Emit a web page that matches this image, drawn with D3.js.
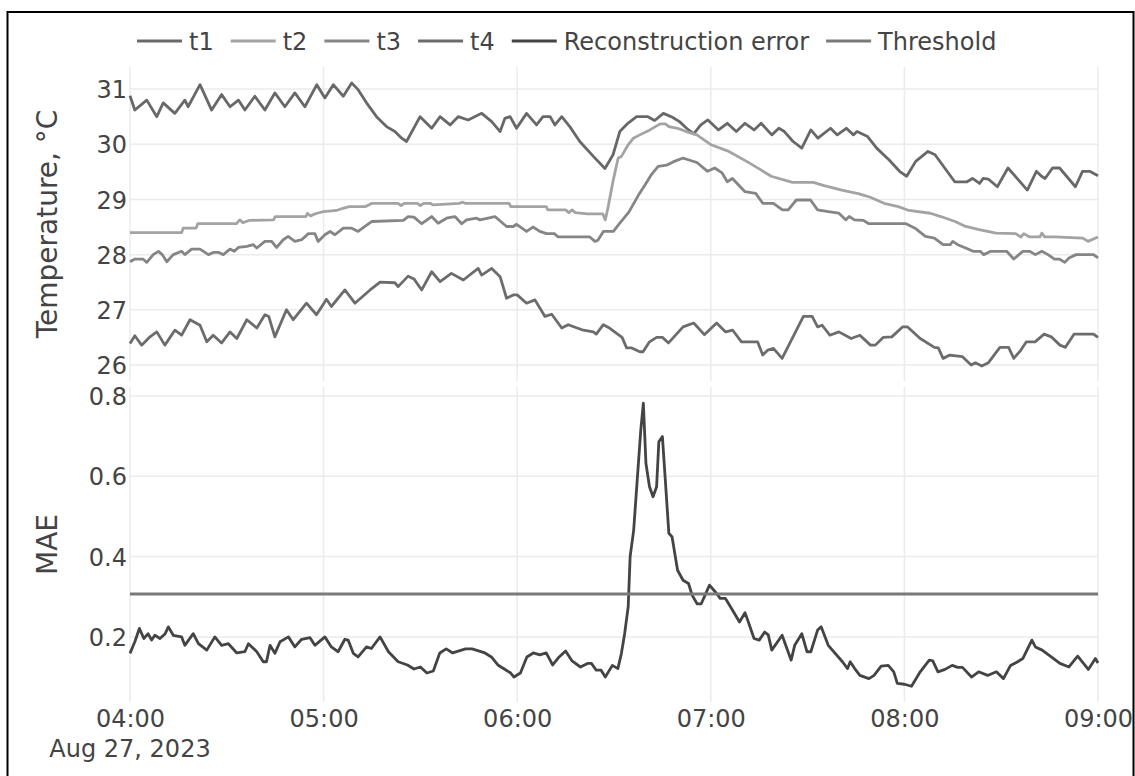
<!DOCTYPE html>
<html><head><meta charset="utf-8">
<script src="https://cdn.jsdelivr.net/npm/d3@7"></script>
<style>
html,body{margin:0;padding:0;background:#fff;}
text{font-family:"DejaVu Sans",Verdana,sans-serif;fill:#444;}
</style></head>
<body><svg id="c" width="1135" height="776"></svg>
<script>
// ---- data (minutes after 04:00, value) ----
const startTime = new Date(2023, 7, 27, 4, 0);
const endTime = new Date(2023, 7, 27, 9, 0);
const seriesNames = ["t1", "t2", "t3", "t4", "Reconstruction error", "Threshold"];
const tempTicks = [26, 27, 28, 29, 30, 31];
const maeTicks = [0.2, 0.4, 0.6, 0.8];
const thresholdValue = 0.3065;

const t1 = [[0,30.88],[1.5,30.62],[5.2,30.8],[8.3,30.5],[10.3,30.75],[13.9,30.56],[17,30.8],[18,30.68],[21.7,31.08],[25.3,30.62],[28.4,30.9],[31,30.68],[33.6,30.8],[35.6,30.62],[38.7,30.87],[41.8,30.62],[44.9,30.93],[48,30.68],[51.1,30.93],[54.2,30.68],[57.9,31.08],[60.4,30.84],[63,31.08],[66.1,30.87],[68.7,31.11],[70.7,30.99],[73.3,30.75],[76.4,30.5],[79.5,30.32],[82.1,30.23],[84.2,30.11],[85.7,30.05],[89.9,30.5],[93.5,30.29],[96.1,30.5],[99.2,30.35],[101.7,30.5],[104.8,30.44],[109,30.56],[112.1,30.41],[114.7,30.23],[116.2,30.47],[117.8,30.5],[119.8,30.29],[122.9,30.56],[126,30.35],[128,30.5],[130.2,30.5],[131.7,30.35],[133.8,30.5],[136.3,30.32],[139.4,30.05],[143.6,29.78],[147.2,29.56],[149.7,29.81],[151.8,30.23],[154.3,30.38],[157,30.5],[160.5,30.5],[162.6,30.43],[165.3,30.56],[168.1,30.49],[170.3,30.41],[172.5,30.29],[174.7,30.19],[176.9,30.35],[179.1,30.44],[182.4,30.26],[185.1,30.38],[187.9,30.23],[190.6,30.38],[193.4,30.26],[195.6,30.38],[198.9,30.17],[201.1,30.29],[202.8,30.23],[205.5,30.05],[208.2,29.93],[211,30.26],[213.2,30.11],[217.1,30.29],[219.2,30.17],[222,30.29],[224.2,30.17],[225.3,30.23],[228.6,30.14],[231.4,29.93],[235.2,29.72],[238.5,29.51],[240.7,29.42],[243.5,29.69],[247.3,29.87],[249.5,29.81],[255.6,29.32],[259.4,29.32],[261.1,29.38],[263.3,29.29],[264.4,29.38],[266,29.37],[268.8,29.23],[272.1,29.57],[278.1,29.17],[280.9,29.51],[282.5,29.42],[283.6,29.38],[285.9,29.57],[288.1,29.57],[293,29.23],[295.2,29.51],[297.4,29.51],[300,29.43]];

const t2 = [[0,28.40],[16,28.40],[16.5,28.48],[20.5,28.48],[21,28.56],[33,28.56],[34,28.63],[35,28.58],[36,28.6],[37,28.62],[44.5,28.63],[45,28.69],[54.5,28.69],[55,28.75],[56,28.7],[57,28.73],[58,28.75],[60,28.78],[64,28.8],[66,28.84],[68,28.87],[73,28.87],[75,28.93],[83,28.93],[84,28.89],[85,28.93],[89,28.93],[90,28.89],[91,28.93],[93,28.93],[94,28.9],[102,28.93],[103,28.95],[104,28.93],[117.5,28.93],[118,28.87],[129,28.87],[129.5,28.81],[135,28.81],[136,28.76],[137,28.81],[138,28.76],[141.8,28.74],[146.5,28.74],[147.3,28.63],[148.2,28.87],[149.8,29.36],[151.3,29.75],[152.3,29.78],[154.4,29.99],[156,30.11],[158,30.17],[161.1,30.26],[164.3,30.37],[165.9,30.37],[167,30.32],[169.7,30.29],[172.4,30.23],[175.7,30.17],[180.1,29.99],[185.6,29.87],[191.1,29.69],[195.4,29.54],[198.7,29.42],[205.3,29.31],[211.8,29.31],[215.1,29.25],[220.6,29.17],[226,29.10],[229.4,29.04],[233.7,28.93],[238.1,28.87],[241.4,28.80],[248,28.75],[251.3,28.69],[255.7,28.60],[259,28.51],[263.5,28.45],[268.4,28.39],[274.5,28.38],[276.1,28.32],[277,28.38],[278.8,28.32],[282,28.32],[282.6,28.39],[283.5,28.32],[286.5,28.32],[295.3,28.30],[296.9,28.24],[300,28.32]];

const t3 = [[0,27.87],[1.5,27.92],[4,27.92],[5.2,27.86],[7.2,28.0],[8.8,28.06],[10,28.0],[11.4,27.87],[13.4,28.0],[16,28.06],[17,28.0],[19.1,28.1],[21.7,28.1],[24.3,28.0],[25.8,28.04],[27.5,28.04],[28.9,28.0],[31,28.1],[32.3,28.06],[33.6,28.13],[36.2,28.15],[38.2,28.18],[39.3,28.12],[41.8,28.24],[43.9,28.24],[45.4,28.13],[47.5,28.27],[49,28.33],[51.1,28.24],[53.2,28.27],[55.3,28.38],[57.3,28.38],[58.3,28.24],[60.4,28.36],[62,28.42],[63.5,28.36],[66.1,28.48],[68.7,28.48],[70.7,28.42],[72.8,28.51],[74.9,28.60],[84.7,28.62],[86.2,28.69],[88,28.68],[90.4,28.56],[93.5,28.69],[95.5,28.57],[98.1,28.66],[100.7,28.69],[102.8,28.56],[104.3,28.63],[107.4,28.66],[108.5,28.63],[113.1,28.69],[116.7,28.51],[118.8,28.51],[119.8,28.55],[122.9,28.42],[124.9,28.50],[127,28.42],[129.1,28.38],[131.5,28.38],[132.7,28.32],[142.5,28.32],[144.1,28.24],[145,28.26],[146.7,28.42],[149.8,28.42],[151.8,28.57],[154.6,28.77],[157.5,29.07],[159.6,29.26],[161.7,29.46],[163.7,29.60],[166.3,29.62],[168.3,29.68],[171.4,29.75],[173,29.72],[175.7,29.67],[179,29.51],[181.2,29.57],[183.5,29.48],[185.1,29.32],[186.7,29.38],[190.6,29.14],[193.9,29.11],[196.1,28.93],[199.4,28.93],[202.2,28.81],[204,28.81],[206.5,28.99],[210.9,28.99],[213.1,28.81],[216.4,28.78],[219.7,28.75],[221.8,28.63],[222.9,28.69],[224.5,28.63],[227.3,28.62],[229,28.56],[240.5,28.56],[243.3,28.48],[246.5,28.33],[249.3,28.30],[252,28.18],[254.2,28.18],[255,28.24],[256.5,28.18],[259,28.12],[261.3,28.06],[263.5,28.06],[264.6,28.0],[266.8,28.06],[271.7,28.06],[273.9,27.92],[276.7,28.06],[278.8,28.06],[280.6,28.0],[282.6,28.06],[284.5,28.0],[286.5,27.92],[288,27.92],[289.7,27.86],[291,27.94],[293.2,28.0],[298.6,28.0],[300,27.94]];

const t4 = [[0,26.39],[1.5,26.53],[3.6,26.36],[6.2,26.51],[8.3,26.60],[10.8,26.36],[13.9,26.63],[16,26.54],[18.6,26.82],[21.7,26.72],[23.8,26.42],[25.8,26.54],[28.4,26.40],[31,26.60],[33.1,26.48],[36.2,26.82],[39.3,26.67],[41.8,26.91],[43,26.88],[44.9,26.51],[48.5,27.0],[50.6,26.82],[54.7,27.12],[57.8,26.91],[60.9,27.19],[62.4,27.06],[66.6,27.36],[69.7,27.12],[74.4,27.36],[77.5,27.50],[82.1,27.49],[83.1,27.42],[86.2,27.61],[88,27.56],[90.4,27.36],[93.5,27.69],[96.1,27.51],[99.6,27.66],[103.3,27.54],[107.9,27.75],[109,27.63],[112.1,27.75],[114.7,27.60],[116.7,27.21],[118.8,27.27],[120,27.27],[122.9,27.12],[125.5,27.18],[128.6,26.88],[130.7,26.92],[133.8,26.67],[135.8,26.73],[140.5,26.63],[143.6,26.60],[144.5,26.56],[146.7,26.73],[148.6,26.67],[152.5,26.50],[153.9,26.31],[155.5,26.31],[158,26.24],[159,26.24],[161,26.42],[163.2,26.50],[165,26.50],[166.9,26.40],[171.4,26.69],[174.7,26.76],[178,26.55],[181.8,26.76],[184.6,26.60],[186.8,26.63],[189.5,26.42],[194.5,26.42],[196.1,26.18],[197.7,26.27],[199.4,26.30],[202.1,26.12],[208.7,26.88],[211.4,26.88],[213.1,26.69],[214.5,26.72],[216.9,26.54],[219.7,26.60],[223.5,26.48],[226.2,26.54],[229.5,26.36],[231,26.36],[233.4,26.50],[236.1,26.51],[239.4,26.69],[241,26.69],[244.9,26.48],[249.3,26.32],[250.5,26.31],[252,26.12],[254.1,26.18],[258,26.15],[260.7,26.0],[262,26.04],[264,25.98],[266,26.04],[269.6,26.32],[272.3,26.32],[273.9,26.12],[276.1,26.27],[277.8,26.42],[280.5,26.42],[283.3,26.56],[285.5,26.51],[288.2,26.36],[289.9,26.32],[292.6,26.56],[298.6,26.56],[300,26.50]];

const mae = [[0,0.159],[1.5,0.188],[2.9,0.221],[4.3,0.196],[5.6,0.208],[6.7,0.192],[7.7,0.204],[9.3,0.196],[10.9,0.208],[11.9,0.225],[13.4,0.204],[16,0.200],[17,0.179],[19.6,0.208],[21.2,0.183],[23.8,0.167],[26.3,0.200],[28.4,0.179],[30.5,0.183],[33.1,0.160],[35.6,0.163],[36.7,0.183],[39.3,0.163],[41.3,0.138],[42.3,0.138],[43.4,0.179],[44.9,0.159],[46.5,0.188],[49.1,0.200],[51.1,0.175],[53.2,0.194],[55.8,0.198],[57.3,0.179],[60.4,0.200],[62.4,0.175],[64.5,0.163],[66.6,0.194],[67.6,0.192],[69.2,0.159],[70.7,0.150],[73.3,0.175],[74.8,0.171],[77.5,0.200],[80.1,0.163],[83.1,0.138],[86,0.13],[88,0.12],[90,0.125],[92,0.11],[94,0.115],[96,0.16],[98,0.17],[100,0.16],[102,0.165],[104,0.17],[106,0.17],[108,0.165],[110,0.16],[112,0.15],[114,0.13],[116,0.12],[118,0.11],[119,0.10],[121,0.11],[123,0.15],[125,0.16],[127,0.155],[129,0.16],[131,0.13],[133,0.15],[135,0.165],[137,0.14],[139.6,0.125],[141.8,0.134],[143,0.134],[144.5,0.117],[146,0.117],[147.3,0.100],[149.5,0.129],[151.2,0.121],[152.3,0.159],[153.3,0.208],[154.4,0.275],[155,0.400],[156.1,0.466],[157.2,0.591],[158.3,0.715],[159.1,0.782],[159.9,0.632],[161,0.574],[162.1,0.549],[163.2,0.574],[163.9,0.686],[165,0.699],[165.9,0.591],[167,0.458],[168,0.449],[169.7,0.366],[171.4,0.341],[173.1,0.333],[174.2,0.304],[175.8,0.282],[177,0.282],[179.6,0.329],[181.8,0.308],[182.9,0.296],[184.5,0.296],[186.7,0.267],[188.9,0.237],[190.6,0.260],[191.5,0.24],[193.4,0.196],[195,0.192],[196.7,0.212],[197.8,0.205],[198.9,0.167],[202.1,0.204],[204.9,0.142],[206,0.179],[208.2,0.208],[209.8,0.163],[211,0.163],[213.1,0.217],[214.2,0.225],[216.4,0.179],[220.8,0.138],[222.4,0.121],[223.2,0.138],[224.6,0.121],[226.2,0.104],[229,0.096],[230.6,0.104],[232.8,0.127],[235,0.129],[236.7,0.113],[237.8,0.084],[240,0.082],[242.2,0.077],[244.9,0.113],[247.7,0.142],[248.8,0.14],[250.4,0.113],[252.6,0.119],[254.8,0.129],[256.5,0.124],[258,0.124],[260.8,0.100],[263,0.113],[265.8,0.104],[268.5,0.113],[270.7,0.096],[272.9,0.129],[275.1,0.138],[276.7,0.146],[279.5,0.192],[280.6,0.175],[282.7,0.167],[285.5,0.150],[288.2,0.134],[291,0.125],[293.7,0.152],[297,0.119],[299.2,0.146],[300,0.135]];

const seriesColors = ["#686868", "#a3a3a3", "#858585", "#6c6c6c", "#444444", "#7a7a7a"];

// ---- layout ----
const svg = d3.select("#c");
const left = 130, right = 1098;
const top1 = 67, bot1 = 381, top2 = 387, bot2 = 702;
const toDate = m => new Date(startTime.getTime() + m * 60000);

const x = d3.scaleTime().domain([startTime, endTime]).range([left, right]);
const y1 = d3.scaleLinear().domain([25.71, 31.40]).range([bot1, top1]);
const y2 = d3.scaleLinear().domain([0.0378, 0.8224]).range([bot2, top2]);

const hourTicks = d3.timeHour.range(startTime, new Date(endTime.getTime() + 1));

// border
svg.append("path").attr("d", "M7.5,790V12H1133.5V790").attr("fill", "none").attr("stroke", "#000").attr("stroke-width", 2);

// gridlines
function grid(yScale, ticks, yTop, yBot) {
  const g = svg.append("g").attr("stroke", "#ebebeb").attr("stroke-width", 1.5);
  ticks.forEach(t => g.append("line").attr("x1", left).attr("x2", right).attr("y1", yScale(t)).attr("y2", yScale(t)));
  hourTicks.forEach(t => g.append("line").attr("x1", x(t)).attr("x2", x(t)).attr("y1", yTop).attr("y2", yBot));
}
grid(y1, tempTicks, top1, bot1);
grid(y2, maeTicks, top2, bot2);

// y tick labels via axis
const ya1 = svg.append("g").attr("transform", `translate(${left - 3},0)`)
  .call(d3.axisLeft(y1).tickValues(tempTicks).tickSize(0).tickPadding(0).tickFormat(d3.format("d")));
const ya2 = svg.append("g").attr("transform", `translate(${left - 3},0)`)
  .call(d3.axisLeft(y2).tickValues(maeTicks).tickSize(0).tickPadding(0).tickFormat(d3.format(".1f")));
[ya1, ya2].forEach(a => {
  a.select(".domain").remove();
  a.selectAll("text").attr("font-size", 24).attr("font-family", "DejaVu Sans").attr("fill", "#444").attr("dy", "0.36em");
});

// x axis
const xa = svg.append("g").attr("transform", `translate(0,${bot2})`)
  .call(d3.axisBottom(x).tickValues(hourTicks).tickSize(0).tickPadding(0).tickFormat(d3.timeFormat("%H:%M")));
xa.select(".domain").remove();
xa.selectAll("text").attr("font-size", 24).attr("font-family", "DejaVu Sans").attr("fill", "#444").attr("dy", null).attr("y", 25);
svg.append("text").attr("x", x(startTime)).attr("y", 757).attr("text-anchor", "middle")
  .attr("font-size", 24).text(d3.timeFormat("%b %-d, %Y")(startTime));

// axis titles
svg.append("text").attr("transform", `translate(57,${(top1 + bot1) / 2}) rotate(-90)`)
  .attr("text-anchor", "middle").attr("font-size", 28).text("Temperature, °C");
svg.append("text").attr("transform", `translate(57,${(top2 + bot2) / 2}) rotate(-90)`)
  .attr("text-anchor", "middle").attr("font-size", 28).text("MAE");

// lines
const line1 = d3.line().x(d => x(toDate(d[0]))).y(d => y1(d[1]));
const line2 = d3.line().x(d => x(toDate(d[0]))).y(d => y2(d[1]));
[t1, t2, t3, t4].forEach((s, i) => {
  svg.append("path").datum(s).attr("d", line1).attr("fill", "none")
    .attr("stroke", seriesColors[i]).attr("stroke-width", 2.8).attr("stroke-linejoin", "round");
});
svg.append("path").datum(mae).attr("d", line2).attr("fill", "none")
  .attr("stroke", seriesColors[4]).attr("stroke-width", 2.8).attr("stroke-linejoin", "round");
svg.append("path").datum([[0, thresholdValue], [300, thresholdValue]]).attr("d", line2).attr("fill", "none")
  .attr("stroke", seriesColors[5]).attr("stroke-width", 3);

// legend
const leg = svg.append("g");
let lx = 137;
const ly = 41;
seriesNames.forEach((name, i) => {
  leg.append("line").attr("x1", lx).attr("x2", lx + 45).attr("y1", ly).attr("y2", ly)
    .attr("stroke", seriesColors[i]).attr("stroke-width", 3);
  const t = leg.append("text").attr("x", lx + 52).attr("y", ly + 9).attr("font-size", 24).text(name);
  lx = lx + 52 + t.node().getComputedTextLength() + 17;
});
</script></body></html>
